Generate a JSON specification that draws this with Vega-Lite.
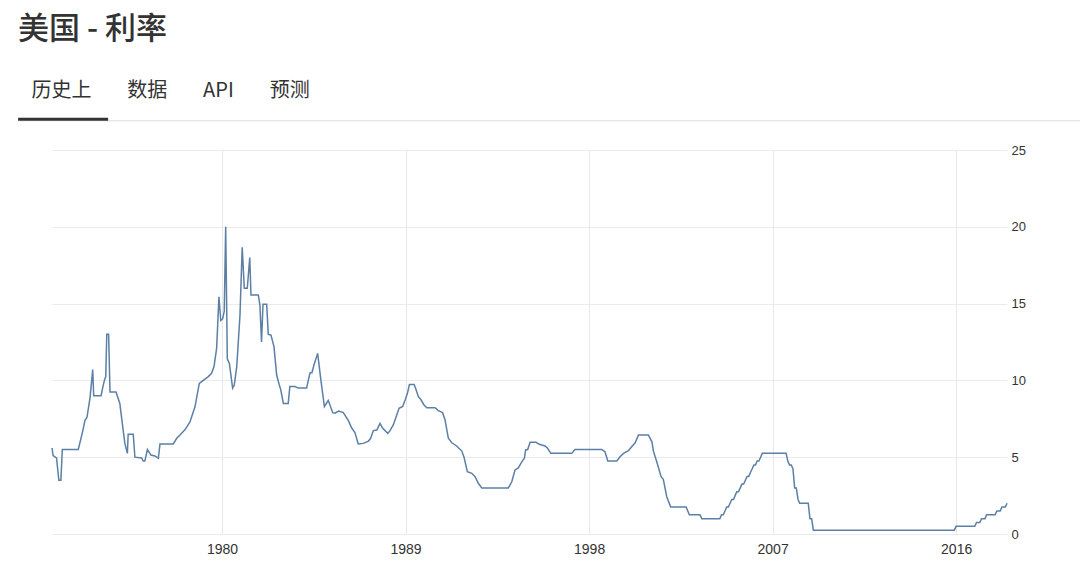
{
  "$schema": "https://vega.github.io/schema/vega-lite/v6.json",
  "width": 955,
  "height": 384,
  "autosize": {"type": "none"},
  "padding": {"left": 52, "top": 150, "right": 73, "bottom": 40},
  "background": "white",
  "title": {
    "text": "美国 - 利率",
    "subtitle": "\u200b\u00a0\u00a0\u00a0历史上\u00a0\u00a0\u00a0\u00a0\u00a0\u00a0\u00a0\u00a0数据\u00a0\u00a0\u00a0\u00a0\u00a0\u00a0\u00a0\u00a0API\u00a0\u00a0\u00a0\u00a0\u00a0\u00a0\u00a0\u00a0预测",
    "anchor": "start",
    "frame": "group",
    "dx": -34,
    "offset": 16,
    "font": "Noto Sans CJK SC",
    "fontSize": 31,
    "fontWeight": 500,
    "color": "#333333",
    "subtitleFont": "Noto Sans CJK SC",
    "subtitleFontSize": 20,
    "subtitleFontWeight": "normal",
    "subtitleColor": "#333333",
    "subtitlePadding": 35
  },
  "config": {"view": {"stroke": null}},
  "layer": [
    {
      "data": {"values": [
        {"d": "1971-08-31", "v": 5.6}, {"d": "1971-09-20", "v": 5.1}, {"d": "1971-11-20", "v": 4.95},
        {"d": "1972-01-01", "v": 3.5}, {"d": "1972-02-06", "v": 3.5}, {"d": "1972-03-03", "v": 5.5},
        {"d": "1972-12-14", "v": 5.5}, {"d": "1973-02-25", "v": 6.6}, {"d": "1973-04-13", "v": 7.4},
        {"d": "1973-05-19", "v": 7.6}, {"d": "1973-07-13", "v": 8.9}, {"d": "1973-08-29", "v": 10.7},
        {"d": "1973-09-16", "v": 9.0}, {"d": "1974-01-26", "v": 9.0}, {"d": "1974-02-17", "v": 9.4},
        {"d": "1974-03-26", "v": 10.0}, {"d": "1974-04-20", "v": 10.25}, {"d": "1974-05-08", "v": 13.0},
        {"d": "1974-06-10", "v": 13.0}, {"d": "1974-07-05", "v": 9.25}, {"d": "1974-10-20", "v": 9.25},
        {"d": "1974-12-28", "v": 8.5}, {"d": "1975-02-10", "v": 7.2}, {"d": "1975-03-28", "v": 5.9},
        {"d": "1975-05-12", "v": 5.25}, {"d": "1975-05-26", "v": 6.5}, {"d": "1975-08-25", "v": 6.5},
        {"d": "1975-09-24", "v": 5.0}, {"d": "1976-01-22", "v": 4.95}, {"d": "1976-02-20", "v": 4.75},
        {"d": "1976-03-20", "v": 4.75}, {"d": "1976-05-05", "v": 5.5}, {"d": "1976-07-08", "v": 5.14},
        {"d": "1976-09-16", "v": 5.08}, {"d": "1976-11-17", "v": 4.93}, {"d": "1976-12-16", "v": 5.86},
        {"d": "1977-08-11", "v": 5.86}, {"d": "1977-10-12", "v": 6.23}, {"d": "1977-12-09", "v": 6.45},
        {"d": "1978-03-11", "v": 6.8}, {"d": "1978-06-06", "v": 7.3}, {"d": "1978-09-05", "v": 8.3},
        {"d": "1978-11-20", "v": 9.8}, {"d": "1979-01-30", "v": 10.0}, {"d": "1979-05-01", "v": 10.25},
        {"d": "1979-06-28", "v": 10.46}, {"d": "1979-08-11", "v": 10.9}, {"d": "1979-09-27", "v": 12.1},
        {"d": "1979-11-07", "v": 15.45}, {"d": "1979-12-10", "v": 13.9}, {"d": "1980-01-12", "v": 14.0},
        {"d": "1980-02-10", "v": 14.5}, {"d": "1980-03-07", "v": 20.0}, {"d": "1980-04-05", "v": 11.4},
        {"d": "1980-05-12", "v": 11.1}, {"d": "1980-07-09", "v": 9.5}, {"d": "1980-08-08", "v": 9.7},
        {"d": "1980-09-21", "v": 10.9}, {"d": "1980-11-18", "v": 14.26}, {"d": "1980-12-28", "v": 18.66},
        {"d": "1981-02-03", "v": 16.0}, {"d": "1981-03-29", "v": 16.0}, {"d": "1981-05-12", "v": 18.0},
        {"d": "1981-06-03", "v": 15.56}, {"d": "1981-10-12", "v": 15.56}, {"d": "1981-11-10", "v": 14.9},
        {"d": "1981-12-09", "v": 12.5}, {"d": "1982-01-04", "v": 14.95}, {"d": "1982-03-11", "v": 14.95},
        {"d": "1982-04-09", "v": 13.0}, {"d": "1982-05-27", "v": 12.95}, {"d": "1982-07-20", "v": 12.2},
        {"d": "1982-09-06", "v": 10.35}, {"d": "1982-10-23", "v": 9.7}, {"d": "1982-11-18", "v": 9.4},
        {"d": "1983-01-04", "v": 8.5}, {"d": "1983-04-01", "v": 8.5}, {"d": "1983-04-30", "v": 9.6},
        {"d": "1983-07-31", "v": 9.6}, {"d": "1983-09-27", "v": 9.5}, {"d": "1984-02-24", "v": 9.5},
        {"d": "1984-03-25", "v": 10.0}, {"d": "1984-04-27", "v": 10.5}, {"d": "1984-05-30", "v": 10.5},
        {"d": "1984-07-05", "v": 11.0}, {"d": "1984-09-09", "v": 11.76}, {"d": "1984-11-10", "v": 9.9},
        {"d": "1985-01-08", "v": 8.3}, {"d": "1985-03-18", "v": 8.7}, {"d": "1985-06-06", "v": 7.9},
        {"d": "1985-07-16", "v": 7.86}, {"d": "1985-09-20", "v": 8.0}, {"d": "1985-12-13", "v": 7.9},
        {"d": "1986-03-11", "v": 7.4}, {"d": "1986-05-12", "v": 6.9}, {"d": "1986-07-09", "v": 6.6},
        {"d": "1986-09-06", "v": 5.86}, {"d": "1986-12-06", "v": 5.9}, {"d": "1987-03-08", "v": 6.05},
        {"d": "1987-04-17", "v": 6.23}, {"d": "1987-06-03", "v": 6.73}, {"d": "1987-08-04", "v": 6.77},
        {"d": "1987-10-01", "v": 7.2}, {"d": "1987-11-18", "v": 6.88}, {"d": "1988-02-17", "v": 6.55},
        {"d": "1988-03-28", "v": 6.73}, {"d": "1988-05-26", "v": 7.1}, {"d": "1988-07-27", "v": 7.75},
        {"d": "1988-09-06", "v": 8.18}, {"d": "1988-11-10", "v": 8.3}, {"d": "1988-12-24", "v": 8.72},
        {"d": "1989-02-03", "v": 9.16}, {"d": "1989-03-11", "v": 9.74}, {"d": "1989-06-03", "v": 9.74},
        {"d": "1989-07-05", "v": 9.42}, {"d": "1989-08-18", "v": 8.94}, {"d": "1989-09-27", "v": 8.77},
        {"d": "1989-11-28", "v": 8.4}, {"d": "1990-01-15", "v": 8.22}, {"d": "1990-06-13", "v": 8.22},
        {"d": "1990-08-10", "v": 8.03}, {"d": "1990-10-26", "v": 7.9}, {"d": "1990-12-09", "v": 7.42},
        {"d": "1991-02-06", "v": 6.23}, {"d": "1991-04-09", "v": 5.94}, {"d": "1991-07-05", "v": 5.73},
        {"d": "1991-10-05", "v": 5.4}, {"d": "1991-11-14", "v": 5.0}, {"d": "1992-01-12", "v": 4.06},
        {"d": "1992-04-01", "v": 3.95}, {"d": "1992-05-30", "v": 3.73}, {"d": "1992-07-27", "v": 3.3},
        {"d": "1992-09-27", "v": 3.0}, {"d": "1994-01-15", "v": 3.0}, {"d": "1994-03-18", "v": 3.4},
        {"d": "1994-05-15", "v": 4.17}, {"d": "1994-07-13", "v": 4.3}, {"d": "1994-09-13", "v": 4.7},
        {"d": "1994-10-30", "v": 4.93}, {"d": "1994-11-21", "v": 5.47}, {"d": "1994-12-28", "v": 5.5},
        {"d": "1995-02-10", "v": 5.97}, {"d": "1995-05-26", "v": 5.97}, {"d": "1995-07-23", "v": 5.84},
        {"d": "1995-11-03", "v": 5.73}, {"d": "1995-12-20", "v": 5.58}, {"d": "1996-02-14", "v": 5.25},
        {"d": "1997-02-24", "v": 5.25}, {"d": "1997-04-23", "v": 5.5}, {"d": "1998-08-15", "v": 5.5},
        {"d": "1998-10-12", "v": 5.36}, {"d": "1998-12-02", "v": 4.75}, {"d": "1999-05-12", "v": 4.75},
        {"d": "1999-07-09", "v": 5.03}, {"d": "1999-09-09", "v": 5.25}, {"d": "1999-12-06", "v": 5.42},
        {"d": "2000-02-03", "v": 5.68}, {"d": "2000-04-05", "v": 5.94}, {"d": "2000-06-03", "v": 6.45},
        {"d": "2000-11-28", "v": 6.45}, {"d": "2001-01-30", "v": 6.0}, {"d": "2001-02-28", "v": 5.36},
        {"d": "2001-04-27", "v": 4.7}, {"d": "2001-07-13", "v": 3.73}, {"d": "2001-08-22", "v": 3.56},
        {"d": "2001-10-23", "v": 2.43}, {"d": "2002-01-01", "v": 1.75}, {"d": "2002-10-05", "v": 1.75},
        {"d": "2002-12-02", "v": 1.25}, {"d": "2003-06-10", "v": 1.25}, {"d": "2003-07-12", "v": 1.0},
        {"d": "2004-05-31", "v": 1.0}, {"d": "2004-06-30", "v": 1.25}, {"d": "2004-07-31", "v": 1.25},
        {"d": "2004-08-31", "v": 1.5}, {"d": "2004-09-30", "v": 1.75}, {"d": "2004-10-31", "v": 1.75},
        {"d": "2004-11-30", "v": 2.0}, {"d": "2004-12-31", "v": 2.25}, {"d": "2005-01-31", "v": 2.25},
        {"d": "2005-02-28", "v": 2.5}, {"d": "2005-03-31", "v": 2.75}, {"d": "2005-04-30", "v": 2.75},
        {"d": "2005-05-31", "v": 3.0}, {"d": "2005-06-30", "v": 3.25}, {"d": "2005-07-31", "v": 3.25},
        {"d": "2005-08-31", "v": 3.5}, {"d": "2005-09-30", "v": 3.75}, {"d": "2005-10-31", "v": 3.75},
        {"d": "2005-11-30", "v": 4.0}, {"d": "2005-12-31", "v": 4.25}, {"d": "2006-01-31", "v": 4.5},
        {"d": "2006-02-28", "v": 4.5}, {"d": "2006-03-31", "v": 4.75}, {"d": "2006-04-30", "v": 4.75},
        {"d": "2006-05-31", "v": 5.0}, {"d": "2006-06-30", "v": 5.25}, {"d": "2007-08-31", "v": 5.25},
        {"d": "2007-09-30", "v": 4.75}, {"d": "2007-10-31", "v": 4.5}, {"d": "2007-11-30", "v": 4.5},
        {"d": "2007-12-31", "v": 4.25}, {"d": "2008-01-31", "v": 3.0}, {"d": "2008-02-29", "v": 3.0},
        {"d": "2008-03-31", "v": 2.25}, {"d": "2008-04-30", "v": 2.0}, {"d": "2008-09-30", "v": 2.0},
        {"d": "2008-10-31", "v": 1.0}, {"d": "2008-11-30", "v": 1.0}, {"d": "2008-12-31", "v": 0.25},
        {"d": "2015-11-30", "v": 0.25}, {"d": "2015-12-31", "v": 0.5}, {"d": "2016-11-30", "v": 0.5},
        {"d": "2016-12-31", "v": 0.75}, {"d": "2017-02-28", "v": 0.75}, {"d": "2017-03-31", "v": 1.0},
        {"d": "2017-05-31", "v": 1.0}, {"d": "2017-06-30", "v": 1.25}, {"d": "2017-11-30", "v": 1.25},
        {"d": "2017-12-31", "v": 1.5}, {"d": "2018-02-28", "v": 1.5}, {"d": "2018-03-31", "v": 1.75},
        {"d": "2018-05-31", "v": 1.75}, {"d": "2018-06-30", "v": 2.0}
      ]},
      "mark": {"type": "line", "color": "#5c7fa6", "strokeWidth": 1.5},
      "encoding": {
        "x": {
          "field": "d", "type": "temporal",
          "scale": {"domain": [{"year": 1971, "month": 8, "date": 31}, {"year": 2018, "month": 6, "date": 30}]},
          "axis": {
            "title": null,
            "values": [{"year": 1980, "month": 1, "date": 1}, {"year": 1989, "month": 1, "date": 1}, {"year": 1998, "month": 1, "date": 1}, {"year": 2007, "month": 1, "date": 1}, {"year": 2016, "month": 1, "date": 1}],
            "format": "%Y",
            "grid": true, "gridColor": "#e6e6ee", "gridWidth": 1,
            "ticks": false, "domain": false,
            "labelFont": "Liberation Sans", "labelFontSize": 14, "labelColor": "#333333", "labelPadding": 8
          }
        },
        "y": {
          "field": "v", "type": "quantitative",
          "scale": {"domain": [0, 25], "nice": false, "zero": true},
          "axis": {
            "title": null, "orient": "right",
            "values": [0, 5, 10, 15, 20, 25],
            "grid": true, "gridColor": "#ebebeb", "gridWidth": 1,
            "ticks": false, "domain": false,
            "labelFont": "Liberation Sans", "labelFontSize": 13, "labelColor": "#333333", "labelPadding": 4
          }
        }
      }
    },
    {
      "data": {"values": [{}]},
      "mark": {"type": "rule", "color": "#dddddd", "strokeWidth": 1},
      "encoding": {
        "x": {"datum": {"year": 1970, "month": 1, "date": 1}, "type": "temporal"},
        "x2": {"datum": {"year": 2023, "month": 1, "date": 1}},
        "y": {"datum": 26.9, "type": "quantitative"}
      }
    },
    {
      "data": {"values": [{}]},
      "mark": {"type": "rule", "color": "#333333", "strokeWidth": 3},
      "encoding": {
        "x": {"datum": {"year": 1970, "month": 1, "date": 1}, "type": "temporal"},
        "x2": {"datum": {"year": 1974, "month": 6, "date": 1}},
        "y": {"datum": 27.0, "type": "quantitative"}
      }
    }
  ]
}
